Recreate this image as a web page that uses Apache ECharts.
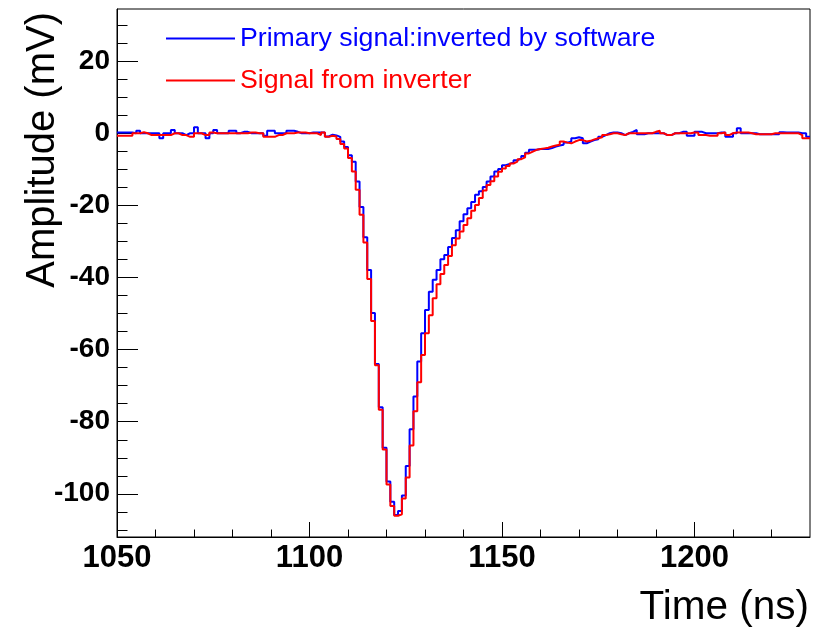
<!DOCTYPE html>
<html>
<head>
<meta charset="utf-8">
<script src="https://cdn.jsdelivr.net/npm/echarts@6/dist/echarts.min.js"></script>
<style>
html,body{margin:0;padding:0;background:#fff;}
#chart{width:822px;height:627px;}
</style>
</head>
<body>
<div id="chart"></div>
<script>
// Histogram binning (ns)
const binStart = 1050;
const binWidth = 1;
const xMin = 1050, xMax = 1230;
const yMin = -112, yMax = 34.6;

const xMajorTicks = [1050, 1100, 1150, 1200];
const yMajorTicks = [-100, -80, -60, -40, -20, 0, 20];
const yMinorTicks = [-110,-105,-100,-95,-90,-85,-80,-75,-70,-65,-60,-55,-50,-45,-40,-35,-30,-25,-20,-15,-10,-5,0,5,10,15,20,25,30];

const seriesNames = ['Primary signal:inverted by software', 'Signal from inverter'];

// Primary signal, inverted by software (mV), one value per 1 ns bin from 1050 ns
const primaryValues = [
  0.3, 0.3, 0.3, 0.3, 0.1, 0.8, 0.1, 0.1, 0.1, 0.1,
  0.1, -1.3, 0.1, 0.1, 1.0, 0.1, 0.1, -0.4, 0.1, 0.1,
  1.8, 0.1, 0.1, -1.3, 0.1, 1.0, 0.1, 0.1, 0.1, 0.8,
  0.8, 0.1, 0.5, 0.5, 0.1, 0.1, 0.1, 0.1, -0.6, 0.8,
  0.8, 0.1, 0.1, 0.1, 0.8, 0.8, 0.5, 0.1, 0.1, 0.1,
  0.3, 0.3, 0.3, 0.3, -0.8, -0.3, -0.5, -0.9, -2.2, -3.7,
  -6.0, -7.8, -13.3, -20.4, -28.8, -37.9, -49.8, -64.0, -76.0, -87.2,
  -96.6, -102.2, -105.9, -104.8, -100.5, -92.3, -82.1, -73.0, -63.3, -55.4,
  -49.0, -43.9, -40.6, -37.9, -34.9, -33.7, -31.5, -29.0, -26.8, -24.3,
  -22.4, -20.7, -19.0, -17.0, -16.0, -14.8, -13.3, -11.9, -10.5, -9.8,
  -8.8, -8.4, -8.0, -7.4, -6.9, -6.2, -5.3, -4.5, -4.5, -4.3,
  -4.3, -4.3, -4.0, -3.6, -3.3, -3.1, -2.5, -2.2, -1.3, -1.0,
  -1.3, -2.7, -2.2, -1.8, -1.6, -0.9, -0.4, 0.1, 0.3, 0.3,
  0.1, -0.4, 0.1, 0.5, 1.0, -0.2, -0.2, 0.1, 0.1, 0.1,
  0.1, 0.1, -0.4, -0.4, 0.1, 0.1, 0.5, 0.5, -0.6, -0.6,
  0.5, 0.5, 0.1, 0.1, 0.1, 0.1, 0.3, 0.3, -0.9, -0.9,
  0.1, 1.5, 0.1, 0.1, 0.1, 0.1, -0.2, -0.2, -0.2, -0.2,
  -0.2, -0.2, 0.4, 0.3, 0.3, 0.3, 0.3, 0.1, 0.1, -0.9
];

// Signal from inverter (mV), one value per 1 ns bin from 1050 ns
const inverterValues = [
  -0.6, -0.6, -0.6, -0.6, 0.1, 0.1, 0.4, 0.1, -0.4, -0.4,
  -0.4, -0.4, -0.4, -0.4, 0.1, 0.1, -0.4, -0.4, -0.9, -0.9,
  0.1, 0.1, -0.4, -0.4, 0.3, 0.1, 0.1, 0.1, 0.1, 0.1,
  0.1, 0.1, 0.1, 0.1, 0.3, 0.3, 0.1, 0.1, -0.9, -0.9,
  -0.9, -0.4, -0.4, 0.1, 0.1, 0.1, 0.3, 0.3, 0.3, 0.1,
  0.1, 0.1, -0.4, 0.3, -0.9, -0.6, -0.8, -1.5, -2.9, -4.1,
  -6.8, -10.5, -15.6, -22.5, -30.2, -40.4, -52.0, -64.3, -76.7, -87.7,
  -97.4, -103.4, -106.1, -105.7, -101.3, -95.5, -86.6, -77.1, -69.0, -61.5,
  -55.4, -50.4, -45.7, -41.8, -39.0, -36.5, -34.0, -31.0, -29.1, -27.2,
  -25.4, -23.5, -21.4, -19.8, -17.9, -15.8, -14.3, -13.2, -11.9, -10.6,
  -9.7, -9.0, -8.3, -7.8, -7.1, -6.6, -5.5, -5.0, -4.5, -4.3,
  -4.1, -3.9, -3.6, -3.3, -3.1, -2.2, -2.5, -2.7, -2.2, -1.8,
  -1.8, -2.2, -2.0, -1.6, -1.3, -1.0, -0.4, -0.2, 0.1, 0.1,
  -0.2, -0.4, 0.1, 0.1, 0.1, 0.1, 0.1, 0.1, 0.1, 0.5,
  0.8, 0.1, -0.4, -0.4, 0.1, 0.1, 0.1, 0.1, 0.1, 0.3,
  0.3, -0.4, -0.4, -0.6, -0.6, -0.6, 0.1, 0.3, -0.4, 0.1,
  0.3, 0.3, 0.3, 0.3, 0.1, -0.2, -0.2, -0.2, -0.2, -0.2,
  0.1, 0.1, 0.1, 0.1, 0.1, 0.1, 0.1, -0.4, -1.3, -1.3
];

function histData(vals) {
  const d = vals.map((v, i) => [binStart + i * binWidth, v]);
  d.push([binStart + vals.length * binWidth, vals[vals.length - 1]]);
  return d;
}

const FONT = '"Liberation Sans", Arial, Helvetica, sans-serif';
const chart = echarts.init(document.getElementById('chart'), null, {renderer: 'canvas'});

chart.setOption({
  animation: false,
  backgroundColor: '#ffffff',
  grid: {
    left: 117, right: 12, top: 9, bottom: 90,
    show: true, borderColor: '#000', borderWidth: 1,
    containLabel: false, outerBoundsMode: 'none'
  },
  legend: {
    orient: 'vertical',
    left: 166, top: 25, padding: 0,
    icon: 'rect',
    itemWidth: 69, itemHeight: 2, itemGap: 15,
    selectedMode: false,
    textStyle: {fontFamily: FONT, fontSize: 26.7, lineHeight: 27},
    data: [
      {name: seriesNames[0], textStyle: {color: '#0000ff'}},
      {name: seriesNames[1], textStyle: {color: '#ff0000'}}
    ]
  },
  xAxis: [{
    type: 'value', min: xMin, max: xMax, interval: 50,
    name: 'Time (ns)', nameLocation: 'end', nameGap: -1,
    nameTextStyle: {fontFamily: FONT, fontSize: 40.5, color: '#000', align: 'right', verticalAlign: 'top', padding: [50, 0, 0, 0]},
    axisLine: {show: true, onZero: false, lineStyle: {color: '#000', width: 1}},
    axisTick: {show: true, inside: true, length: 15, lineStyle: {color: '#000', width: 1}, customValues: xMajorTicks},
    minorTick: {show: true, splitNumber: 5, length: 7.5, lineStyle: {color: '#000', width: 1}},
    axisLabel: {show: true, fontFamily: FONT, fontWeight: 'bold', fontSize: 31, color: '#000', margin: 6,
      customValues: xMajorTicks, formatter: function (v) { return String(v); }},
    splitLine: {show: false}
  }],
  yAxis: [{
    type: 'value', min: yMin, max: yMax, position: 'left',
    name: 'Amplitude (mV)', nameLocation: 'end', nameGap: -3, nameRotate: 90,
    nameTextStyle: {fontFamily: FONT, fontSize: 40, color: '#000', align: 'right', verticalAlign: 'bottom', padding: [0, 0, 54, 0]},
    axisLine: {show: true, onZero: false, lineStyle: {color: '#000', width: 1}},
    axisTick: {show: true, inside: true, length: 21, lineStyle: {color: '#000', width: 1}, customValues: yMajorTicks},
    axisLabel: {show: true, fontFamily: FONT, fontWeight: 'bold', fontSize: 28, color: '#000', margin: 7,
      customValues: yMajorTicks, formatter: function (v) { return String(v); }},
    splitLine: {show: false}
  }, {
    type: 'value', min: yMin, max: yMax, position: 'left', offset: 0,
    axisLine: {show: false},
    axisTick: {show: true, inside: true, length: 10.5, lineStyle: {color: '#000', width: 1}, customValues: yMinorTicks},
    axisLabel: {show: false},
    splitLine: {show: false}
  }],
  series: [{
    name: seriesNames[0], type: 'line', step: 'end',
    data: histData(primaryValues), showSymbol: false, symbol: 'none',
    lineStyle: {color: '#0000ff', width: 2}, itemStyle: {color: '#0000ff'},
    xAxisIndex: 0, yAxisIndex: 0, z: 2
  }, {
    name: seriesNames[1], type: 'line', step: 'end',
    data: histData(inverterValues), showSymbol: false, symbol: 'none',
    lineStyle: {color: '#ff0000', width: 2}, itemStyle: {color: '#ff0000'},
    xAxisIndex: 0, yAxisIndex: 0, z: 3
  }]
});
</script>
</body>
</html>
